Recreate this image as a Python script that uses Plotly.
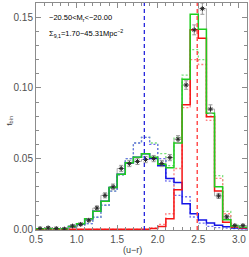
import plotly.graph_objects as go

# bin edges of the (u-r) histograms
bin_edges = [round(0.5 + 0.1 * i, 2) for i in range(27)]
bin_centers = [round(0.55 + 0.1 * i, 2) for i in range(26)]

# observed distribution (gray steps + points)
data_vals = [0.0005, 0.001, 0.0005, 0.0002, 0.0023, 0.0035, 0.0064, 0.015, 0.024, 0.030,
             0.043, 0.0465, 0.048, 0.0493, 0.050, 0.0465, 0.0507, 0.0637, 0.102, 0.141,
             0.156, 0.085, 0.0236, 0.0088, 0.0026, 0.0026]
data_errs = [0.001, 0.001, 0.001, 0.001, 0.001, 0.001, 0.0012, 0.0015, 0.0018, 0.002,
             0.0022, 0.0022, 0.0022, 0.0022, 0.0022, 0.0022, 0.0022, 0.0025, 0.003, 0.0035,
             0.004, 0.003, 0.0018, 0.0012, 0.001, 0.001]

# model total (solid) and alternative (dotted)
green_solid = [0.0003, 0.0003, 0.0003, 0.0003, 0.002, 0.004, 0.0075, 0.0127, 0.0198, 0.0295,
               0.039, 0.047, 0.051, 0.0535, 0.051, 0.046, 0.0435, 0.061, 0.106, 0.152,
               0.1415, 0.082, 0.030, 0.0068, 0.0024, 0.0015]
green_dot = [0.0003, 0.0003, 0.0003, 0.0003, 0.0015, 0.003, 0.004, 0.0085, 0.017, 0.027,
             0.0385, 0.050, 0.061, 0.065, 0.061, 0.0535, 0.045, 0.065, 0.109, 0.127,
             0.120, 0.080, 0.038, 0.0127, 0.003, 0.0015]
blue_solid = [0.0003, 0.0003, 0.0003, 0.0003, 0.002, 0.004, 0.0075, 0.0127, 0.0198, 0.0295,
              0.039, 0.047, 0.051, 0.0535, 0.050, 0.045, 0.036, 0.033, 0.018, 0.011,
              0.0065, 0.0045, 0.0028, 0.0018, 0.001, 0.0005]
blue_dot = [0.0003, 0.0003, 0.0003, 0.0003, 0.0015, 0.003, 0.004, 0.0085, 0.017, 0.027,
            0.0385, 0.050, 0.061, 0.065, 0.060, 0.050, 0.034, 0.024, 0.023, 0.0087,
            0.0043, 0.002, 0.0012, 0.0008, 0.0005, 0.0003]
red_solid = [0.0, 0.0, 0.0, 0.0, 0.0, 0.0, 0.0, 0.0, 0.0, 0.0,
             0.0, 0.0, 0.0, 0.0, 0.0005, 0.002, 0.0075, 0.028, 0.088, 0.141,
             0.135, 0.0795, 0.027, 0.005, 0.0014, 0.001]
red_dot = [0.0, 0.0, 0.0, 0.0, 0.0, 0.0, 0.0, 0.0, 0.0, 0.0,
           0.0, 0.0, 0.0, 0.0, 0.001, 0.0035, 0.011, 0.043, 0.086, 0.120,
           0.1165, 0.077, 0.036, 0.011, 0.002, 0.001]

blue_peak = 1.835
red_peak = 2.487

x_ticks = [0.5, 1.0, 1.5, 2.0, 2.5, 3.0]
y_ticks = [0.0, 0.05, 0.10, 0.15]
x_range = [0.5, 3.1]
y_range = [-0.0005, 0.16]


def step(vals):
    return list(bin_edges), list(vals) + [vals[-1]]


fig = go.Figure()

# observed histogram (gray steps)
sx, sy = step(data_vals)
fig.add_trace(go.Scatter(x=sx, y=sy, mode="lines", line_shape="hv",
                         line=dict(color="rgb(170,170,170)", width=1), hoverinfo="skip"))

series = [
    (green_dot, "rgb(120,225,120)", "2px,2px", 1.3),
    (blue_dot, "rgb(110,110,240)", "2px,2px", 1.3),
    (red_dot, "rgb(255,130,130)", "2px,2px", 1.3),
    (blue_solid, "rgb(20,20,230)", "solid", 1.5),
    (red_solid, "rgb(245,20,20)", "solid", 1.5),
    (green_solid, "rgb(30,205,30)", "solid", 1.5),
]
for vals, col, dash, w in series:
    sx, sy = step(vals)
    fig.add_trace(go.Scatter(x=sx, y=sy, mode="lines", line_shape="hv",
                             line=dict(color=col, width=w, dash=dash), hoverinfo="skip"))

# data points with error bars
fig.add_trace(go.Scatter(x=bin_centers, y=data_vals, mode="markers",
                         marker=dict(symbol="asterisk-open", size=4, color="rgb(40,40,40)",
                                     line=dict(color="rgb(40,40,40)", width=1)),
                         error_y=dict(type="data", array=data_errs, color="rgb(150,150,150)",
                                      thickness=1, width=2)))

# characteristic colour lines
fig.add_trace(go.Scatter(x=[blue_peak, blue_peak], y=y_range, mode="lines",
                         line=dict(color="rgb(40,40,220)", width=1.3, dash="4px,3px")))
fig.add_trace(go.Scatter(x=[red_peak, red_peak], y=y_range, mode="lines",
                         line=dict(color="rgb(255,80,80)", width=1.5, dash="4px,3px")))

axis_common = dict(showgrid=False, zeroline=False, showline=True, linecolor="rgb(140,140,140)",
                   linewidth=1, mirror="allticks", ticks="inside", tickcolor="rgb(140,140,140)",
                   ticklen=5, automargin=False,
                   tickfont=dict(family="Liberation Sans", size=10, color="rgb(80,80,80)"))

fig.update_layout(
    width=249, height=257,
    margin=dict(l=36, r=2, t=3, b=27, autoexpand=False),
    paper_bgcolor="white", plot_bgcolor="white",
    showlegend=False,
    hovermode=False,
    xaxis=dict(range=x_range, tickvals=x_ticks, tickformat=".1f",
               minor=dict(ticks="inside", dtick=0.1, ticklen=3, tickcolor="rgb(140,140,140)"),
               **axis_common),
    yaxis=dict(range=y_range, tickvals=y_ticks, tickformat=".2f",
               minor=dict(ticks="inside", dtick=0.01, ticklen=3, tickcolor="rgb(140,140,140)"),
               **axis_common),
    annotations=[
        dict(text="−20.50<M<sub>r</sub><−20.00", xref="paper", yref="paper", x=0.05, y=0.935,
             xanchor="left", yanchor="middle", showarrow=False,
             font=dict(family="Liberation Sans", size=7.5, color="black")),
        dict(text="Σ<sub>9,1</sub>=1.70−45.31Mpc<sup>−2</sup>", xref="paper", yref="paper",
             x=0.05, y=0.865, xanchor="left", yanchor="middle", showarrow=False,
             font=dict(family="Liberation Sans", size=7.5, color="black")),
        dict(text="(u−r)", xref="paper", yref="paper", x=0.455, y=-0.09, xanchor="center",
             yanchor="middle", showarrow=False,
             font=dict(family="Liberation Sans", size=9, color="rgb(60,60,60)")),
        dict(text="f<sub>bin</sub>", xref="paper", yref="paper", x=-0.125, y=0.48,
             xanchor="center", yanchor="middle", showarrow=False, textangle=-90,
             font=dict(family="Liberation Sans", size=8, color="rgb(60,60,60)")),
    ],
)

fig.write_html("out.html", config={"displayModeBar": False, "staticPlot": True},
               post_script="document.body.style.margin='0';document.body.style.overflow='hidden';")
